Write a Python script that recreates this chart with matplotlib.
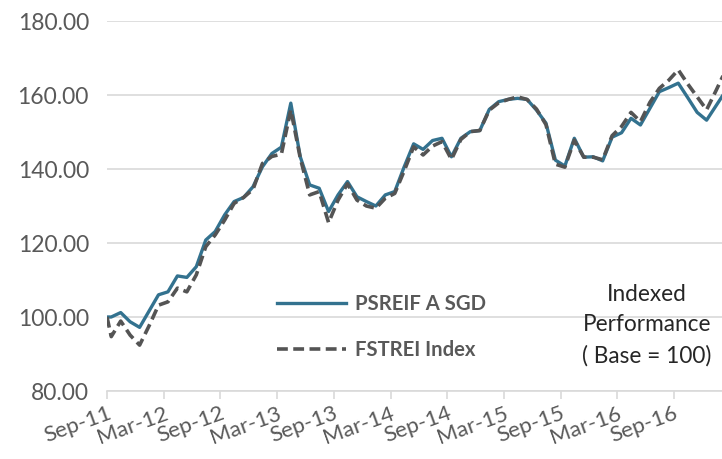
import numpy as np
import matplotlib
matplotlib.use("Agg")
import matplotlib.pyplot as plt
from matplotlib.lines import Line2D

plt.rcParams['font.family'] = ['Lato', 'DejaVu Sans']

# month position (0 = start of Sep-11); base point then mid-month observations
month_pos = [0.0] + [m + 0.45 for m in range(66)]

psreif = [100.0, 100.0, 101.2, 98.7, 97.2, 101.6, 106.0, 106.8, 111.1, 110.7, 113.6,
          120.8, 123.1, 127.6, 131.2, 132.3, 135.2, 140.6, 144.2, 145.9, 157.8,
          143.3, 135.7, 134.8, 128.5, 133.0, 136.6, 132.5, 131.2, 130.0, 133.0,
          133.9, 140.6, 146.8, 145.3, 147.7, 148.3, 143.3, 148.3, 150.1, 150.4,
          156.1, 158.2, 158.8, 159.1, 158.8, 155.9, 152.4, 142.4, 140.8, 148.3,
          143.2, 143.3, 142.2, 148.6, 149.8, 153.7, 151.9, 156.4, 160.9, 162.0,
          163.2, 159.3, 155.3, 153.2, 157.1, 161.0]

fstrei = [100.0, 94.7, 98.9, 95.1, 92.4, 97.6, 103.2, 104.1, 107.8, 106.8, 111.4,
          119.0, 122.2, 126.2, 130.7, 132.3, 134.5, 141.5, 143.4, 144.0, 156.0,
          143.0, 133.0, 133.9, 125.5, 131.6, 136.0, 131.6, 130.0, 129.4, 132.1,
          133.4, 139.5, 146.0, 143.8, 146.2, 147.4, 142.6, 148.0, 150.1, 150.4,
          155.9, 157.9, 158.8, 159.5, 158.8, 156.2, 152.0, 141.3, 140.5, 147.8,
          143.2, 143.2, 142.5, 149.0, 151.5, 155.3, 152.8, 158.0, 161.8, 164.0,
          166.8, 163.0, 159.5, 156.0, 161.2, 166.6]

tick_labels = ["Sep-11", "Mar-12", "Sep-12", "Mar-13", "Sep-13", "Mar-14",
               "Sep-14", "Mar-15", "Sep-15", "Mar-16", "Sep-16"]
tick_months = [0, 6, 12, 18, 24, 30, 36, 42, 48, 54, 60]
y_ticks = [80, 100, 120, 140, 160, 180]

series_names = ["PSREIF A SGD", "FSTREI Index"]

blue = "#33728f"
gray_line = "#545454"
text_gray = "#595959"
DASH = (3.0, 1.5)

fig = plt.figure(figsize=(7.22, 4.59), dpi=100)
ax = fig.add_axes([107/722, 68/459, 1 - 107/722, (391-21)/459])

ax.plot(month_pos, psreif, color=blue, lw=2.4, solid_joinstyle='round', zorder=3)
ax.plot(month_pos, fstrei, color=gray_line, lw=2.6, dashes=DASH,
        dash_capstyle='butt', zorder=4)

ax.set_xlim(0, (722-107)/9.45)
ax.set_ylim(80, 180)
ax.set_yticks(y_ticks)
ax.set_yticklabels([f"{v:.2f}" for v in y_ticks])
ax.set_xticks(tick_months)
ax.set_xticklabels(tick_labels, rotation=20, ha='right', rotation_mode='anchor')

ax.grid(axis='y', color='#d9d9d9', lw=1.2)
ax.set_axisbelow(True)
for s in ['top', 'right', 'left']:
    ax.spines[s].set_visible(False)
ax.spines['bottom'].set_color('#d9d9d9')
ax.spines['bottom'].set_linewidth(1.2)
ax.tick_params(axis='y', length=0, labelsize=16.5, labelcolor=text_gray, pad=13)
ax.tick_params(axis='x', length=6, width=1.2, color='#d9d9d9', labelsize=16,
               labelcolor=text_gray, pad=3)

handles = [Line2D([], [], color=blue, lw=2.4),
           Line2D([], [], color=gray_line, lw=2.6, dashes=DASH)]
leg = ax.legend(handles, series_names, loc='upper left',
                bbox_to_anchor=((259-107)/615, (391-276)/370),
                frameon=False, handlelength=3.4, handletextpad=0.45,
                labelspacing=1.25, prop={'weight': 'bold', 'size': 14.6})
for t in leg.get_texts():
    t.set_color(text_gray)

fig.text(647/722, 1 - 284/459, "Indexed\nPerformance\n( Base = 100)", ha='center',
         va='top', fontsize=16.3, color='#262626', linespacing=1.55)

fig.savefig("out.png", dpi=100)
